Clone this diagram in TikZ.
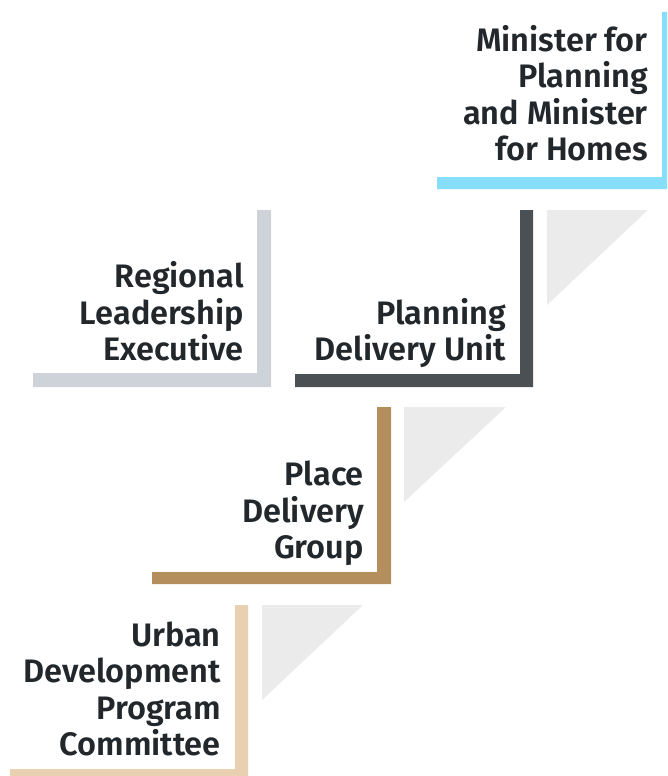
\documentclass[tikz,border=0pt]{standalone}
\usepackage{fontspec}
\setmainfont{Fira Sans}[BoldFont={Fira Sans SemiBold}]
\usepackage{xcolor}
\usetikzlibrary{positioning}

\definecolor{ink}{HTML}{22272B}
\definecolor{skyline}{HTML}{87DEFA}
\definecolor{slate}{HTML}{4A5054}
\definecolor{mist}{HTML}{CDD3D8}
\definecolor{bronze}{HTML}{B58E5E}
\definecolor{sand}{HTML}{E8D0B0}
\definecolor{wedgegray}{HTML}{EBEBEB}

\begin{document}
\begin{tikzpicture}[
    x=1pt, y=-1pt,
    title/.style={
        font=\fontsize{32.5}{36.5}\selectfont\bfseries,
        text=ink,
        align=right,
        anchor=south east,
        text depth=0pt,
        inner sep=0pt
    },
    wedge/.style={fill=wedgegray}
]
\useasboundingbox (0,0) rectangle (667,776);

% ============================================================
% ESCALONES
% ============================================================

% Ministro
\fill[skyline] (437,189) -- (667,189) -- (667,12) -- (662,12) -- (662,177) -- (437,177) -- cycle;
\node[title] (minister) at (648,161) {Minister for\\Planning\\and Minister\\for Homes};

% Unidad de planificación
\fill[slate] (295,387) -- (533,387) -- (533,210) -- (520,210) -- (520,374) -- (295,374) -- cycle;
\fill[wedge] (547,210) -- (648,210) -- (547,305) -- cycle;
\node[title] (pdu) at (506,361) {Planning\\Delivery Unit};

% Liderazgo regional
\fill[mist] (33,387) -- (271,387) -- (271,210) -- (257,210) -- (257,373) -- (33,373) -- cycle;
\node[title] (rle) at (244,361) {Regional\\Leadership\\Executive};

% Grupo de lugar
\fill[bronze] (152,584) -- (391,584) -- (391,407) -- (377,407) -- (377,572) -- (152,572) -- cycle;
\fill[wedge] (404,407) -- (506,407) -- (404,502) -- cycle;
\node[title] (pdg) at (364,559) {Place\\Delivery\\Group};

% Comité urbano
\fill[sand] (10,776) -- (248,776) -- (248,605) -- (235,605) -- (235,769) -- (10,769) -- cycle;
\fill[wedge] (262,605) -- (363,605) -- (262,700) -- cycle;
\node[title] (udpc) at (221,756) {Urban\\Development\\Program\\Committee};

\end{tikzpicture}
\end{document}
